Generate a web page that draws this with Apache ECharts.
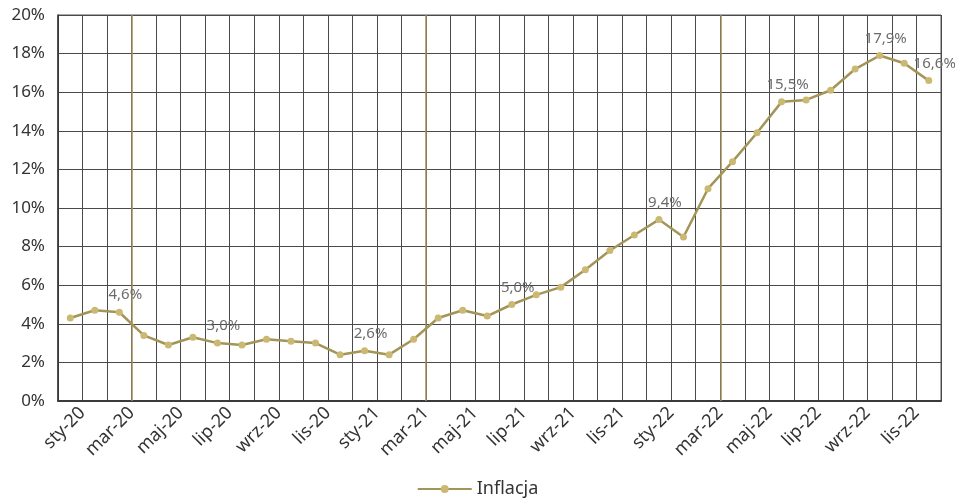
<!DOCTYPE html>
<html>
<head>
<meta charset="utf-8">
<script src="https://cdn.jsdelivr.net/npm/echarts@6/dist/echarts.min.js"></script>
<style>
  html, body { margin: 0; padding: 0; background: #fff; }
  #chart { width: 955px; height: 499px; }
</style>
</head>
<body>
<div id="chart"></div>
<script>
// Monthly CPI inflation, year on year (%)
const months = [
  'sty-20','lut-20','mar-20','kwi-20','maj-20','cze-20','lip-20','sie-20','wrz-20','paź-20','lis-20','gru-20',
  'sty-21','lut-21','mar-21','kwi-21','maj-21','cze-21','lip-21','sie-21','wrz-21','paź-21','lis-21','gru-21',
  'sty-22','lut-22','mar-22','kwi-22','maj-22','cze-22','lip-22','sie-22','wrz-22','paź-22','lis-22','gru-22'
];
const inflation = [
  4.3, 4.7, 4.6, 3.4, 2.9, 3.3, 3.0, 2.9, 3.2, 3.1, 3.0, 2.4,
  2.6, 2.4, 3.2, 4.3, 4.7, 4.4, 5.0, 5.5, 5.9, 6.8, 7.8, 8.6,
  9.4, 8.5, 11.0, 12.4, 13.9, 15.5, 15.6, 16.1, 17.2, 17.9, 17.5, 16.6
];
// Months whose value is printed above the point
const labelledMonths = ['mar-20','lip-20','sty-21','lip-21','sty-22','cze-22','paź-22','gru-22'];
// Highlighted separators: boundary after March of each year (in month-boundary units)
const highlightBoundaries = [3, 15, 27];
const yTicks = { min: 0, max: 20, step: 2 };

const FONT = '"Noto Sans", "Open Sans", sans-serif';
const fmtPct = v => v.toFixed(1).replace('.', ',') + '%';

const chart = echarts.init(document.getElementById('chart'), null, { renderer: 'canvas' });

chart.setOption({
  animation: false,
  backgroundColor: '#ffffff',
  textStyle: { fontFamily: FONT },
  grid: {
    left: 58, right: 14, top: 15, bottom: 98,
    show: true, borderColor: '#555', borderWidth: 1
  },
  legend: {
    bottom: -4,
    left: 'center',
    data: ['Inflacja'],
    itemWidth: 54,
    itemHeight: 10,
    itemGap: 10,
    textStyle: { fontSize: 18, color: '#333', fontFamily: FONT }
  },
  xAxis: [
    {
      type: 'category',
      data: months,
      boundaryGap: true,
      axisLine: { lineStyle: { color: '#3a3a3a', width: 2 } },
      axisTick: { show: false },
      axisLabel: { show: false },
      splitLine: { show: true, interval: 0, lineStyle: { color: '#4a4a4a', width: 1 } }
    },
    {
      // month-boundary scale used for the rotated labels and separators
      type: 'value',
      position: 'bottom',
      min: 0,
      max: months.length,
      interval: 1,
      axisLine: { show: false },
      axisTick: { show: false },
      splitLine: { show: false },
      axisLabel: {
        rotate: 45,
        margin: 9,
        fontSize: 18,
        color: '#333',
        fontFamily: FONT,
        formatter: v => {
          const i = v - 1;
          return (i >= 0 && i % 2 === 0 && i < months.length) ? months[i] : '';
        }
      }
    }
  ],
  yAxis: {
    type: 'value',
    min: yTicks.min,
    max: yTicks.max,
    interval: yTicks.step,
    axisLine: { show: true, lineStyle: { color: '#333', width: 1.5 } },
    axisTick: { show: false },
    axisLabel: { formatter: '{value}%', fontSize: 17, color: '#333', margin: 13, fontFamily: FONT },
    splitLine: { show: true, lineStyle: { color: '#4a4a4a', width: 1 } }
  },
  series: [
    {
      name: 'separators',
      type: 'line',
      xAxisIndex: 1,
      data: [],
      silent: true,
      markLine: {
        silent: true,
        symbol: 'none',
        label: { show: false },
        lineStyle: { color: '#a08d5c', type: 'solid', width: 1.5 },
        data: highlightBoundaries.map(b => ({ xAxis: b }))
      }
    },
    {
      name: 'Inflacja',
      type: 'line',
      xAxisIndex: 0,
      data: inflation,
      symbol: 'circle',
      symbolSize: 7,
      lineStyle: { color: '#a39558', width: 2.5 },
      itemStyle: { color: '#cbb873' },
      label: {
        show: true,
        position: 'top',
        offset: [6, 0],
        distance: 6,
        fontSize: 15,
        color: '#6b6b6b',
        fontFamily: FONT,
        formatter: p => labelledMonths.includes(months[p.dataIndex]) ? fmtPct(p.value) : ''
      },
      z: 5
    }
  ]
});
</script>
</body>
</html>
